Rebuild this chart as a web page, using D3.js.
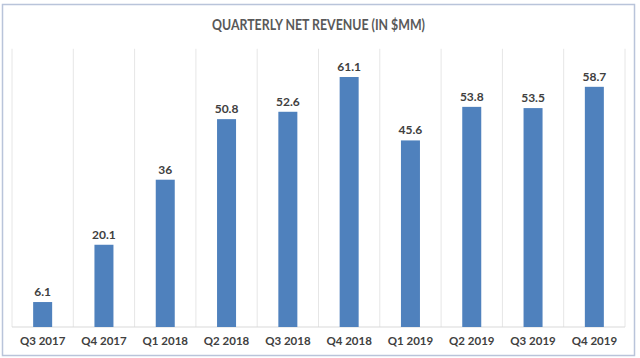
<!DOCTYPE html>
<html>
<head>
<meta charset="utf-8">
<script src="https://cdn.jsdelivr.net/npm/d3@7/dist/d3.min.js"></script>
<style>
  html, body { margin: 0; padding: 0; background: #fff; }
  svg { display: block; }
</style>
</head>
<body>
<svg id="chart" width="640" height="358"></svg>
<script>
const categories = ["Q3 2017", "Q4 2017", "Q1 2018", "Q2 2018", "Q3 2018", "Q4 2018", "Q1 2019", "Q2 2019", "Q3 2019", "Q4 2019"];
const revenue = [6.1, 20.1, 36, 50.8, 52.6, 61.1, 45.6, 53.8, 53.5, 58.7];
const labels = ["6.1", "20.1", "36", "50.8", "52.6", "61.1", "45.6", "53.8", "53.5", "58.7"];
const title = "QUARTERLY NET REVENUE (IN $MM)";

const W = 640, H = 358;
const svg = d3.select("#chart");
const font = "Lato, 'Open Sans', sans-serif";

// outer border
svg.append("rect")
  .attr("x", 2.5).attr("y", 4.5).attr("width", 632).attr("height", 351)
  .attr("fill", "#fff").attr("stroke", "#b9c4da").attr("stroke-width", 1.5);

const x = d3.scaleBand().domain(categories).range([12, 625]).paddingInner(0.69).paddingOuter(0.345);
const y = d3.scaleLinear().domain([0, 61.1]).range([327, 77]);
const yTop = y(68);

// vertical gridlines at band boundaries
const bounds = categories.map(c => x(c) - x.step() * x.paddingInner() / 2);
bounds.push(bounds[bounds.length - 1] + x.step());
svg.append("g").selectAll("line").data(bounds).join("line")
  .attr("x1", d => d).attr("x2", d => d)
  .attr("y1", yTop).attr("y2", y(0))
  .attr("stroke", "#e6e6e6").attr("stroke-width", 1);

// baseline
svg.append("line")
  .attr("x1", bounds[0]).attr("x2", bounds[bounds.length - 1])
  .attr("y1", y(0)).attr("y2", y(0))
  .attr("stroke", "#d9d9d9").attr("stroke-width", 1);

// bars
svg.append("g").selectAll("rect").data(revenue).join("rect")
  .attr("x", (d, i) => x(categories[i]))
  .attr("width", x.bandwidth())
  .attr("y", d => y(d))
  .attr("height", d => y(0) - y(d))
  .attr("fill", "#4f81bd");

// value labels
svg.append("g").selectAll("text").data(revenue).join("text")
  .attr("x", (d, i) => x(categories[i]) + x.bandwidth() / 2)
  .attr("y", d => y(d) - 6)
  .attr("text-anchor", "middle")
  .attr("font-family", font).attr("font-weight", "bold").attr("font-size", 12)
  .attr("fill", "#404040")
  .text((d, i) => labels[i]);

// category axis labels
const xAxis = d3.axisBottom(x).tickSize(0).tickPadding(10);
const gx = svg.append("g").attr("transform", `translate(0,${y(0)})`).call(xAxis);
gx.select(".domain").remove();
gx.selectAll("text")
  .attr("font-family", font).attr("font-weight", "bold").attr("font-size", 11.5)
  .attr("fill", "#404040");

// title
svg.append("text")
  .attr("x", 318.5).attr("y", 30)
  .attr("text-anchor", "middle")
  .attr("font-family", font).attr("font-weight", "bold").attr("font-size", 15.5)
  .attr("textLength", 213).attr("lengthAdjust", "spacingAndGlyphs")
  .attr("fill", "#595959")
  .text(title);
</script>
</body>
</html>
